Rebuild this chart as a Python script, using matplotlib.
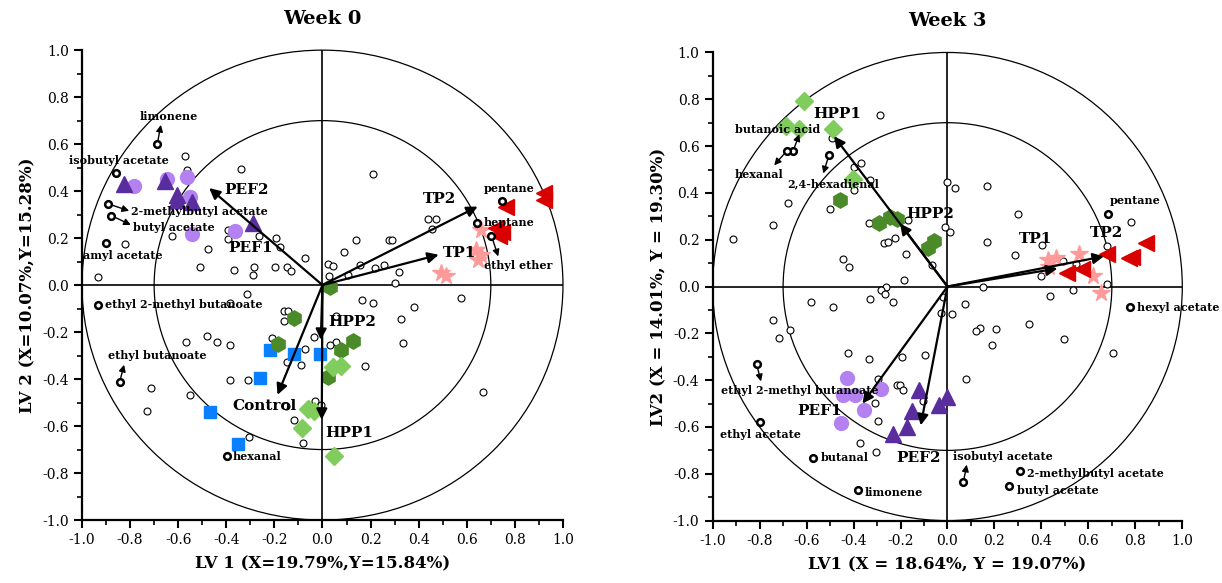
import numpy as np
import matplotlib
matplotlib.use('Agg')
import matplotlib.pyplot as plt
from matplotlib.patches import Circle
from matplotlib.ticker import MultipleLocator

plt.rcParams['font.family'] = ['DejaVu Serif']

# ---------------- Week 0 data ----------------
w0_var_x = [-0.932, -0.822, -0.627, -0.571, -0.564, -0.474, -0.508, -0.338, -0.391, -0.391, -0.366, -0.283,
            -0.288, -0.263, -0.194, -0.176, -0.198, -0.148, -0.129, -0.071, 0.025, 0.042, 0.028,
            0.212, 0.44, 0.474, 0.455, 0.139, 0.278, 0.291, 0.09, 0.108, 0.157, 0.217, 0.254, 0.319, 0.303,
            -0.312, -0.385, -0.159, -0.143, -0.162, -0.208, -0.479, -0.44, -0.385, -0.566, -0.037, -0.072,
            -0.146, -0.09, -0.385, -0.31, -0.712, -0.551, -0.728, -0.032, -0.007, -0.152, -0.118, -0.305,
            -0.079, 0.056, 0.056, 0.032, 0.166, 0.211, 0.379, 0.577, 0.326, 0.336, 0.175, 0.667]
w0_var_y = [0.034, 0.176, 0.21, 0.549, 0.489, 0.152, 0.079, 0.492, 0.235, 0.196, 0.065, 0.075,
            0.041, 0.207, 0.2, 0.162, 0.075, 0.077, 0.062, 0.115, 0.091, 0.082, 0.04,
            0.472, 0.281, 0.281, 0.238, 0.19, 0.19, 0.19, 0.14, 0.044, 0.086, 0.072, 0.085, 0.055, 0.009,
            -0.038, -0.077, -0.112, -0.112, -0.151, -0.226, -0.216, -0.243, -0.254, -0.243, -0.219, -0.272,
            -0.329, -0.339, -0.406, -0.403, -0.44, -0.468, -0.538, -0.495, -0.509, -0.516, -0.573, -0.647,
            -0.67, -0.131, -0.244, -0.254, -0.063, -0.077, -0.094, -0.054, -0.145, -0.247, -0.343, -0.457]

w0_pef2_x = [-0.825, -0.655, -0.603, -0.603, -0.544, -0.291]
w0_pef2_y = [0.431, 0.445, 0.384, 0.363, 0.352, 0.264]
w0_pef1_x = [-0.784, -0.645, -0.564, -0.551, -0.541, -0.363]
w0_pef1_y = [0.423, 0.451, 0.462, 0.374, 0.218, 0.231]
w0_tp2_x = [0.923, 0.923, 0.763, 0.722, 0.735, 0.745]
w0_tp2_y = [0.391, 0.363, 0.334, 0.243, 0.207, 0.225]
w0_tp1_x = [0.659, 0.638, 0.645, 0.493, 0.513, 0.66]
w0_tp1_y = [0.235, 0.15, 0.108, 0.051, 0.037, 0.13]
w0_ctrl_x = [-0.219, -0.118, -0.011, -0.259, -0.469, -0.35]
w0_ctrl_y = [-0.275, -0.294, -0.294, -0.396, -0.542, -0.675]
w0_hpp2_x = [0.03, -0.118, -0.184, 0.125, 0.077, 0.025]
w0_hpp2_y = [-0.009, -0.14, -0.25, -0.237, -0.275, -0.393]
w0_hpp1_x = [0.042, 0.079, -0.062, -0.035, -0.086, 0.046]
w0_hpp1_y = [-0.35, -0.346, -0.528, -0.538, -0.609, -0.729]

# treatment loading arrows: name, tip, label position
w0_treat_names = ['PEF2', 'PEF1', 'TP2', 'TP1', 'Control', 'HPP2', 'HPP1']
w0_treat_tip = [(-0.471, 0.413), None, (0.645, 0.334), (0.483, 0.129), (-0.187, -0.467),
                (-0.007, -0.233), (-0.003, -0.573)]
w0_treat_lab = [(-0.315, 0.403), (-0.298, 0.157), (0.486, 0.366), (0.569, 0.136), (-0.243, -0.516),
                (0.122, -0.157), (0.111, -0.63)]

# named compounds: name, point, label position, alignment, small arrow tip
w0_cmp_names = ['limonene', 'isobutyl acetate', '2-methylbutyl acetate', 'butyl acetate', 'amyl acetate',
                'ethyl 2-methyl butanoate', 'ethyl butanoate', 'hexanal', 'pentane', 'heptane', 'ethyl ether']
w0_cmp_pt = [(-0.687, 0.6), (-0.857, 0.479), (-0.892, 0.346), (-0.878, 0.296), (-0.899, 0.179),
             (-0.935, -0.085), (-0.843, -0.411), (-0.395, -0.729), (0.745, 0.356), (0.642, 0.266),
             (0.702, 0.211)]
w0_cmp_lab = [(-0.638, 0.717), (-0.846, 0.53), (-0.797, 0.313), (-0.788, 0.245), (-0.832, 0.125),
              (-0.906, -0.083), (-0.687, -0.301), (-0.375, -0.729), (0.777, 0.41), (0.669, 0.266),
              (0.812, 0.083)]
w0_cmp_ha = ['center', 'center', 'left', 'left', 'center', 'left', 'center', 'left', 'center', 'left', 'center']
w0_cmp_arrow = [(-0.672, 0.682), None, (-0.804, 0.316), (-0.797, 0.256), None, None,
                (-0.825, -0.339), None, None, None, (0.731, 0.122)]

# ---------------- Week 3 data ----------------
w3_var_x = [-0.287, -0.492, -0.369, -0.4, -0.331, -0.4, -0.5, -0.681, -0.745, -0.912, -0.334, -0.27,
            -0.253, -0.224, -0.177, -0.166, -0.447, -0.419, -0.185, -0.26, -0.064, 0.0, 0.032, -0.01, 0.011,
            0.17, 0.302, 0.17, 0.286, 0.401, 0.4, 0.492, 0.546, 0.681, 0.783, 0.681, 0.153,
            -0.582, -0.487, -0.331, -0.284, -0.267, -0.234, -0.021, -0.028, 0.021, 0.074, 0.081, -0.745,
            -0.671, -0.719, -0.423, -0.334, -0.194, -0.095, -0.295, -0.216, -0.203, -0.191, -0.308, -0.298,
            -0.104, -0.372, -0.305,
            0.435, 0.535, 0.347, 0.139, 0.12, 0.208, 0.191, 0.496, 0.706]
w3_var_y = [0.732, 0.635, 0.526, 0.511, 0.454, 0.412, 0.33, 0.355, 0.262, 0.201, 0.272, 0.188,
            0.191, 0.209, 0.138, 0.286, 0.117, 0.084, 0.03, 0.0, 0.091, 0.447, 0.419, 0.255, 0.231,
            0.429, 0.312, 0.191, 0.134, 0.176, 0.045, 0.109, 0.098, 0.172, 0.274, 0.009, 0.0,
            -0.066, -0.087, -0.054, -0.016, -0.033, -0.066, -0.044, -0.111, -0.118, -0.073, -0.396, -0.144,
            -0.187, -0.218, -0.286, -0.311, -0.301, -0.294, -0.393, -0.419, -0.419, -0.443, -0.497, -0.576,
            -0.489, -0.667, -0.707,
            -0.04, -0.013, -0.158, -0.175, -0.19, -0.182, -0.248, -0.222, -0.282]

w3_hpp1_x = [-0.61, -0.688, -0.631, -0.489, -0.402]
w3_hpp1_y = [0.792, 0.686, 0.675, 0.672, 0.459]
w3_hpp2_x = [-0.458, -0.291, -0.246, -0.213, -0.085, -0.057]
w3_hpp2_y = [0.369, 0.272, 0.297, 0.29, 0.165, 0.195]
w3_tp2_x = [0.681, 0.844, 0.787, 0.775, 0.508, 0.571]
w3_tp2_y = [0.137, 0.188, 0.127, 0.12, 0.06, 0.074]
w3_tp1_x = [0.426, 0.461, 0.432, 0.56, 0.621, 0.652]
w3_tp1_y = [0.112, 0.12, 0.084, 0.137, 0.045, -0.027]
w3_pef1_x = [-0.43, -0.447, -0.393, -0.284, -0.355, -0.454]
w3_pef1_y = [-0.39, -0.462, -0.465, -0.436, -0.529, -0.585]
w3_pef2_x = [-0.121, -0.003, -0.036, -0.152, -0.173, -0.231]
w3_pef2_y = [-0.44, -0.474, -0.507, -0.532, -0.6, -0.628]

w3_treat_names = ['HPP1', 'HPP2', 'TP1', 'TP2', 'PEF1', 'PEF2']
w3_treat_tip = [(-0.483, 0.642), (-0.202, 0.269), (0.468, 0.077), (0.666, 0.129), (-0.362, -0.5),
                (-0.114, -0.593)]
w3_treat_lab = [(-0.468, 0.739), (-0.074, 0.312), (0.376, 0.202), (0.678, 0.229), (-0.543, -0.533),
                (-0.125, -0.732)]

w3_cmp_names = ['butanoic acid', 'hexanal', '2,4-hexadienal', 'pentane', 'hexyl acetate',
                'ethyl 2-methyl butanoate', 'ethyl acetate', 'butanal', 'limonene', 'isobutyl acetate',
                '2-methylbutyl acetate', 'butyl acetate']
w3_cmp_pt = [(-0.657, 0.58), (-0.684, 0.58), (-0.504, 0.564), (0.685, 0.309), (0.776, -0.088),
             (-0.813, -0.332), (-0.797, -0.579), (-0.573, -0.732), (-0.379, -0.868), (0.068, -0.835),
             (0.308, -0.789), (0.262, -0.852)]
w3_cmp_lab = [(-0.723, 0.672), (-0.802, 0.479), (-0.485, 0.437), (0.798, 0.366), (0.806, -0.088),
              (-0.629, -0.443), (-0.797, -0.631), (-0.542, -0.732), (-0.351, -0.882), (0.238, -0.724),
              (0.34, -0.8), (0.294, -0.872)]
w3_cmp_ha = ['center', 'center', 'center', 'center', 'left', 'center', 'center', 'left', 'left',
             'center', 'left', 'left']
w3_cmp_arrow = [(-0.631, 0.651), (-0.738, 0.518), (-0.529, 0.483), None, None, (-0.794, -0.405),
                None, None, None, (0.082, -0.761), None, None]

# group styles
c_pef2 = '#5a2d9e'
c_pef1 = '#b482f0'
c_tp2 = '#d90000'
c_tp1 = '#ff9a9a'
c_ctrl = '#0a7fff'
c_hpp2 = '#4a8a28'
c_hpp1 = '#80cc5c'


def setup_axes(ax, xlabel, ylabel, title):
    ax.set_xlim(-1, 1)
    ax.set_ylim(-1, 1)
    for s in ['top', 'right']:
        ax.spines[s].set_visible(False)
    for s in ['left', 'bottom']:
        ax.spines[s].set_linewidth(1.6)
    ax.xaxis.set_major_locator(MultipleLocator(0.2))
    ax.xaxis.set_minor_locator(MultipleLocator(0.1))
    ax.yaxis.set_major_locator(MultipleLocator(0.2))
    ax.yaxis.set_minor_locator(MultipleLocator(0.1))
    ax.tick_params(which='major', direction='out', length=6, width=1.5, labelsize=10)
    ax.tick_params(which='minor', direction='out', length=3.5, width=1.2)
    ax.xaxis.set_major_formatter(matplotlib.ticker.FormatStrFormatter('%.1f'))
    ax.yaxis.set_major_formatter(matplotlib.ticker.FormatStrFormatter('%.1f'))
    ax.axhline(0, color='k', lw=1.2, zorder=1)
    ax.axvline(0, color='k', lw=1.2, zorder=1)
    for r in [1.0, 0.7]:
        ax.add_patch(Circle((0, 0), r, fill=False, ec='k', lw=0.9, zorder=1, clip_on=False))
    ax.set_xlabel(xlabel, fontsize=12, fontweight='bold', labelpad=6)
    ax.set_ylabel(ylabel, fontsize=12, fontweight='bold', labelpad=4)
    ax.set_title(title, fontsize=14, fontweight='bold', pad=19)


def draw_groups(ax, groups):
    for x, y, m, c, ms in groups:
        ax.plot(x, y, ls='none', marker=m, color=c, mec=c, ms=ms, zorder=3)


def draw_treat(ax, names, tips, labs):
    for n, t, l in zip(names, tips, labs):
        if t is not None:
            ax.annotate('', xy=t, xytext=(0, 0),
                        arrowprops=dict(arrowstyle='-|>', color='k', lw=1.6, mutation_scale=16,
                                        shrinkA=0, shrinkB=0), zorder=4)
        ax.text(l[0], l[1], n, fontsize=11, fontweight='bold', ha='center', va='center', zorder=5)


def draw_compounds(ax, names, pts, labs, has, arrows):
    for n, p, l, h, a in zip(names, pts, labs, has, arrows):
        ax.plot(p[0], p[1], 'o', ms=4.8, mfc='white', mec='k', mew=1.8, zorder=6)
        if a is not None:
            ax.annotate('', xy=a, xytext=p,
                        arrowprops=dict(arrowstyle='-|>', color='k', lw=1.0, mutation_scale=10,
                                        shrinkA=3, shrinkB=0), zorder=6)
        ax.text(l[0], l[1], n, fontsize=8, fontweight='bold', ha=h, va='center', zorder=6)


fig = plt.figure(figsize=(12.22, 5.83), dpi=100)
ax0 = fig.add_axes([0.0671, 0.108, 0.3936, 0.806])
ax3 = fig.add_axes([0.5832, 0.107, 0.3843, 0.803])

# Week 0
setup_axes(ax0, 'LV 1 (X=19.79%,Y=15.84%)', 'LV 2 (X=10.07%,Y=15.28%)', 'Week 0')
ax0.plot(w0_var_x, w0_var_y, 'o', ms=5, mfc='white', mec='k', mew=0.8, ls='none', zorder=2)
draw_groups(ax0, [
    (w0_pef1_x, w0_pef1_y, 'o', c_pef1, 10),
    (w0_pef2_x, w0_pef2_y, '^', c_pef2, 11),
    (w0_tp1_x, w0_tp1_y, '*', c_tp1, 13),
    (w0_tp2_x, w0_tp2_y, '<', c_tp2, 11),
    (w0_ctrl_x, w0_ctrl_y, 's', c_ctrl, 9),
    (w0_hpp2_x, w0_hpp2_y, 'h', c_hpp2, 11),
    (w0_hpp1_x, w0_hpp1_y, 'D', c_hpp1, 9),
])
draw_treat(ax0, w0_treat_names, w0_treat_tip, w0_treat_lab)
draw_compounds(ax0, w0_cmp_names, w0_cmp_pt, w0_cmp_lab, w0_cmp_ha, w0_cmp_arrow)

# Week 3
setup_axes(ax3, 'LV1 (X = 18.64%, Y = 19.07%)', 'LV2 (X = 14.01%, Y = 19.30%)', 'Week 3')
ax3.plot(w3_var_x, w3_var_y, 'o', ms=5, mfc='white', mec='k', mew=0.8, ls='none', zorder=2)
draw_groups(ax3, [
    (w3_hpp1_x, w3_hpp1_y, 'D', c_hpp1, 9),
    (w3_hpp2_x, w3_hpp2_y, 'h', c_hpp2, 11),
    (w3_tp1_x, w3_tp1_y, '*', c_tp1, 13),
    (w3_tp2_x, w3_tp2_y, '<', c_tp2, 11),
    (w3_pef1_x, w3_pef1_y, 'o', c_pef1, 10),
    (w3_pef2_x, w3_pef2_y, '^', c_pef2, 11),
])
draw_treat(ax3, w3_treat_names, w3_treat_tip, w3_treat_lab)
draw_compounds(ax3, w3_cmp_names, w3_cmp_pt, w3_cmp_lab, w3_cmp_ha, w3_cmp_arrow)

fig.savefig('out.png', dpi=100)
